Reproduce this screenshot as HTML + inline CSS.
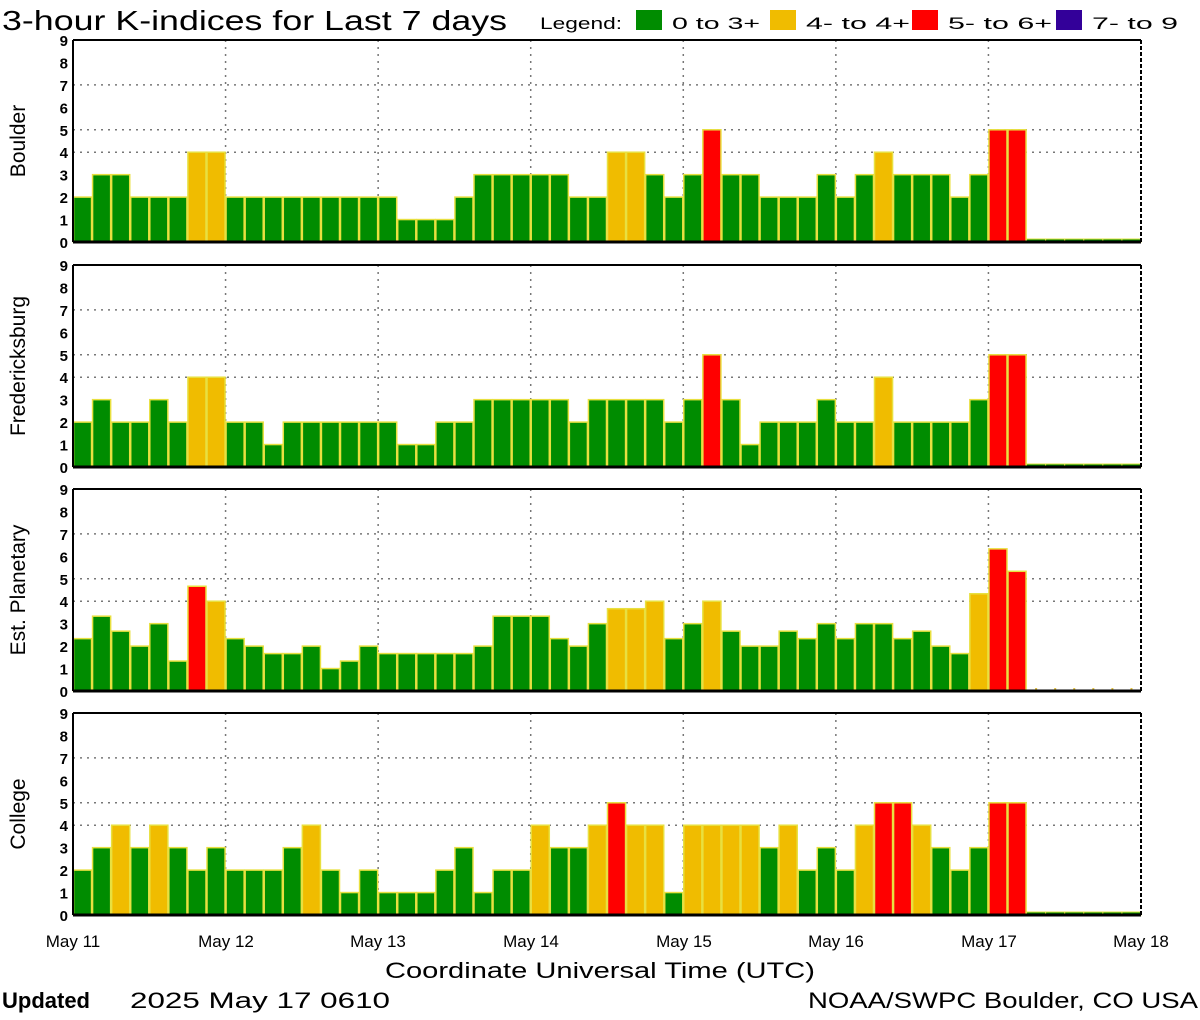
<!DOCTYPE html>
<html><head><meta charset="utf-8">
<style>
html,body{margin:0;padding:0;background:#fff;}
svg{display:block;}
text{font-family:"Liberation Sans",sans-serif;fill:#000;}
</style></head>
<body>
<svg id="s" width="1200" height="1020" xmlns="http://www.w3.org/2000/svg">
<rect width="1200" height="1020" fill="#fff"/>
<text x="2" y="30" font-size="28" textLength="505" lengthAdjust="spacingAndGlyphs">3-hour K-indices for Last 7 days</text>
<text x="540" y="29" font-size="17" textLength="82" lengthAdjust="spacingAndGlyphs">Legend:</text>
<rect x="636" y="10" width="26" height="20" fill="#008c00"/>
<text x="672" y="29" font-size="17" textLength="88" lengthAdjust="spacingAndGlyphs">0 to 3+</text>
<rect x="770" y="10" width="26" height="20" fill="#f0bc00"/>
<text x="806" y="29" font-size="17" textLength="104" lengthAdjust="spacingAndGlyphs">4- to 4+</text>
<rect x="912" y="10" width="26" height="20" fill="#ff0000"/>
<text x="948" y="29" font-size="17" textLength="104" lengthAdjust="spacingAndGlyphs">5- to 6+</text>
<rect x="1056" y="10" width="26" height="20" fill="#330099"/>
<text x="1092" y="29" font-size="17" textLength="86" lengthAdjust="spacingAndGlyphs">7- to 9</text>
<g id="panels"></g>
<text x="73" y="947" font-size="17" text-anchor="middle">May 11</text>
<text x="226" y="947" font-size="17" text-anchor="middle">May 12</text>
<text x="378" y="947" font-size="17" text-anchor="middle">May 13</text>
<text x="531" y="947" font-size="17" text-anchor="middle">May 14</text>
<text x="684" y="947" font-size="17" text-anchor="middle">May 15</text>
<text x="836" y="947" font-size="17" text-anchor="middle">May 16</text>
<text x="989" y="947" font-size="17" text-anchor="middle">May 17</text>
<text x="1141" y="947" font-size="17" text-anchor="middle">May 18</text>
<text x="600" y="978" font-size="22" text-anchor="middle" textLength="430" lengthAdjust="spacingAndGlyphs">Coordinate Universal Time (UTC)</text>
<text x="2" y="1008" font-size="22" font-weight="bold" font-family="Liberation Mono,monospace">Updated</text>
<text x="130" y="1008" font-size="22" textLength="260" lengthAdjust="spacingAndGlyphs">2025 May 17 0610</text>
<text x="1198" y="1008" font-size="22" text-anchor="end" textLength="390" lengthAdjust="spacingAndGlyphs">NOAA/SWPC Boulder, CO USA</text>
<text transform="translate(25,141) rotate(-90)" font-size="21" text-anchor="middle">Boulder</text>
<text transform="translate(25,366) rotate(-90)" font-size="21" text-anchor="middle">Fredericksburg</text>
<text transform="translate(25,590) rotate(-90)" font-size="21" text-anchor="middle">Est. Planetary</text>
<text transform="translate(25,814) rotate(-90)" font-size="21" text-anchor="middle">College</text>
<g font-size="15" font-weight="bold" text-anchor="end" id="ticks"></g>
</svg>
<script>
var a=2/3,b=1/3;
var data=[
 {top:40,z:true,v:[2,3,3,2,2,2,4,4, 2,2,2,2,2,2,2,2, 2,1,1,1,2,3,3,3, 3,3,2,2,4,4,3,2, 3,5,3,3,2,2,2,3, 2,3,4,3,3,3,2,3, 5,5,0,0,0,0,0,0]},
 {top:265,z:true,v:[2,3,2,2,3,2,4,4, 2,2,1,2,2,2,2,2, 2,1,1,2,2,3,3,3, 3,3,2,3,3,3,3,2, 3,5,3,1,2,2,2,3, 2,2,4,2,2,2,2,3, 5,5,0,0,0,0,0,0]},
 {top:489,z:false,v:[2+b,3+b,2+a,2,3,1+b,4+a,4, 2+b,2,1+a,1+a,2,1,1+b,2, 1+a,1+a,1+a,1+a,1+a,2,3+b,3+b, 3+b,2+b,2,3,3+a,3+a,4,2+b, 3,4,2+a,2,2,2+a,2+b,3, 2+b,3,3,2+b,2+a,2,1+a,4+b, 6+b,5+b,0,0,0,0,0,0]},
 {top:713,z:true,v:[2,3,4,3,4,3,2,3, 2,2,2,3,4,2,1,2, 1,1,1,2,3,1,2,2, 4,3,3,4,5,4,4,1, 4,4,4,4,3,4,2,3, 2,4,5,5,4,3,2,3, 5,5,0,0,0,0,0,0]}
];
var NS="http://www.w3.org/2000/svg",g=document.getElementById('panels'),tk=document.getElementById('ticks');
function el(n,at,p){var e=document.createElementNS(NS,n);for(var k in at)e.setAttribute(k,at[k]);(p||g).appendChild(e);return e;}
var L=73,R=1141,W=(R-L)/56,H=202,U=H/9;
data.forEach(function(p){
 var bot=p.top+H;
 [4,5,7].forEach(function(v){el('line',{x1:L,x2:R,y1:bot-v*U,y2:bot-v*U,stroke:'#777','stroke-width':1.5,'stroke-dasharray':'2 5'});});
 for(var d=1;d<7;d++){var x=L+d*8*W;el('line',{x1:x,x2:x,y1:p.top,y2:bot,stroke:'#777','stroke-width':1.5,'stroke-dasharray':'2 5'});}
 p.v.forEach(function(v,i){
  var x=L+i*W;
  if(v<=0){ if(p.z) el('rect',{x:x,y:bot-3,width:W,height:3,fill:'#008c00',stroke:'#e0e040','stroke-width':1});
    else el('rect',{x:x+W/2-1,y:bot-3,width:2,height:2,fill:'#e0c040'}); return;}
  var c=v>=6.5?'#330099':v>=4.5?'#ff0000':v>=3.5?'#f0bc00':'#008c00';
  el('rect',{x:x+0.5,y:bot-v*U,width:W-1,height:v*U,fill:c,stroke:'#e8e040','stroke-width':1.5});
 });
 el('line',{x1:L,x2:R,y1:p.top,y2:p.top,stroke:'#000','stroke-width':2});
 el('line',{x1:L,x2:L,y1:p.top,y2:bot,stroke:'#000','stroke-width':2});
 el('line',{x1:R,x2:R,y1:p.top,y2:bot,stroke:'#000','stroke-width':2,'stroke-dasharray':'4 2'});
 el('line',{x1:L,x2:R,y1:bot,y2:bot,stroke:'#000','stroke-width':3});
 for(var v=0;v<=9;v++){var t=el('text',{x:68,y:bot-v*U+6},tk);t.textContent=v;}
});
</script>
</body></html>
